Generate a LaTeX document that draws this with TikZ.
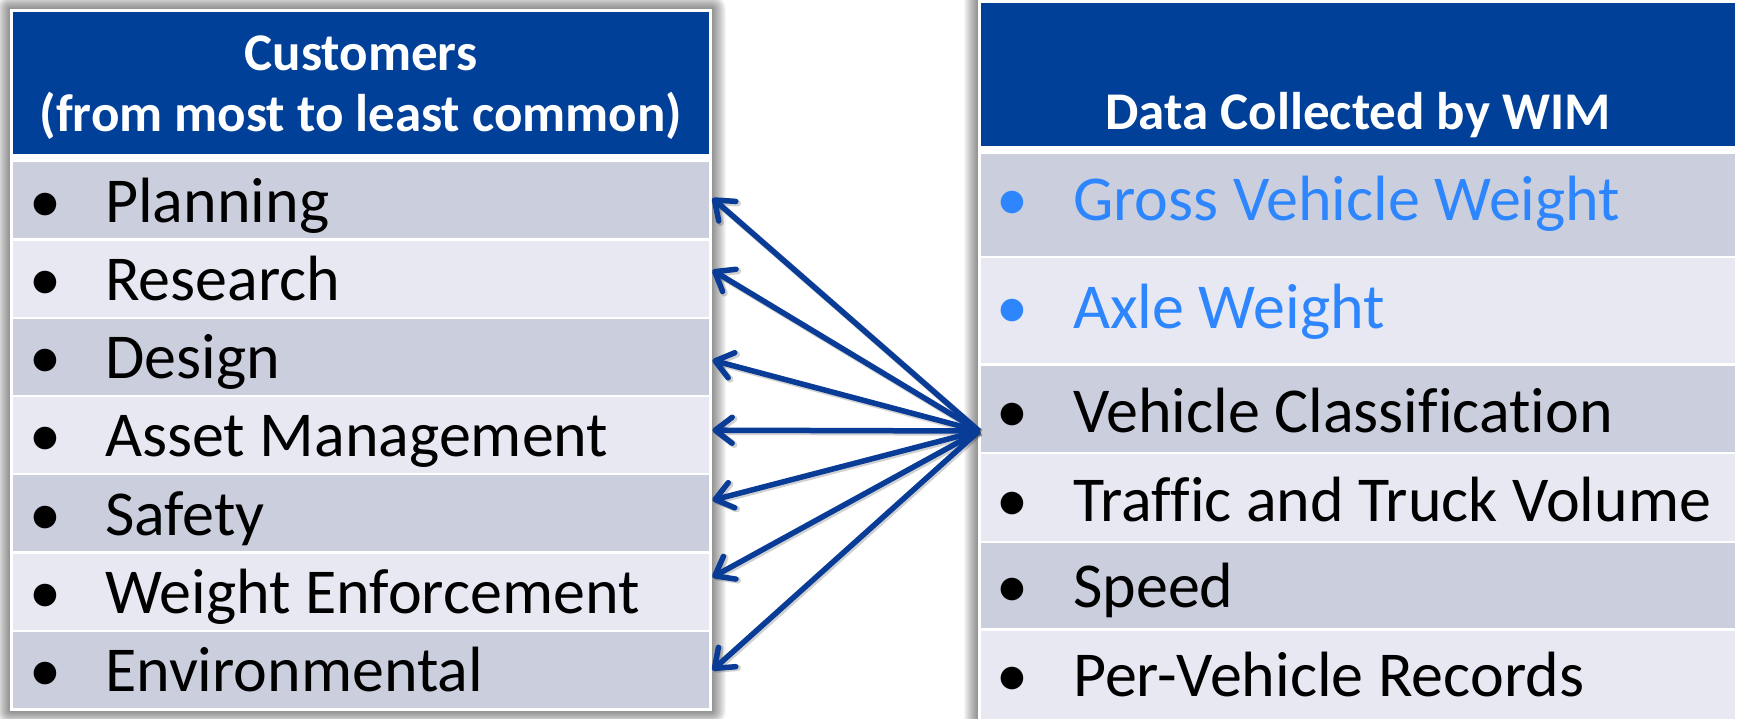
\documentclass[tikz,border=0pt]{standalone}
\usepackage{fontspec}
\setmainfont{Carlito}[Ligatures=NoCommon]
\usetikzlibrary{arrows.meta}

\definecolor{hdrblue}{RGB}{0,64,152}
\definecolor{rowdark}{RGB}{203,207,221}
\definecolor{rowlight}{RGB}{231,232,241}
\definecolor{arrowblue}{RGB}{8,60,150}
\definecolor{itemblue}{RGB}{46,134,255}

\tikzset{
  cellbox/.style={draw=none, inner sep=0pt, anchor=north west},
  hdrtext/.style={text=white, inner sep=0pt, anchor=base,
    font=\fontsize{53}{61}\selectfont\bfseries},
  itemtext/.style={text=black, inner sep=0pt, anchor=base west,
    font=\fontsize{64}{72}\selectfont},
  bullettext/.style={text=black, inner sep=0pt, anchor=base,
    font=\fontsize{64}{72}\selectfont},
  link/.style={draw=arrowblue, line width=5.5pt,
    -{Straight Barb[length=17pt,width=26pt,round]}},
  linkshade/.style={draw=black, opacity=0.18, line width=6.5pt,
    -{Straight Barb[length=17pt,width=26pt,round]}},
}

% soft outer shadow of a panel: stacked translucent frames
\newcommand{\panelshadow}[4]{%
  \foreach \s in {1,...,14}{%
    \fill[black, opacity=0.035, rounded corners=\s pt]
      (#1-\s, #2-\s) rectangle (#3+\s, #4+\s);
  }%
}

\begin{document}
\begin{tikzpicture}[x=1pt, y=-1pt]
\clip (0,0) rectangle (1738,718);
\fill[white] (0,0) rectangle (1738,718);

% ---------- shadows and white frames ----------
\panelshadow{10}{9}{712}{711}
\panelshadow{978}{0}{1738}{740}
\fill[white] (10,9) rectangle (712,711);
\fill[white] (978,0) rectangle (1738,740);

% ---------- customers panel ----------
\node[cellbox, fill=hdrblue, minimum width=696pt, minimum height=142pt] (Lh) at (13,12) {};
\node[hdrtext] (Lh1) at (361,70) {Customers};
\node[hdrtext] (Lh2) at (361,131) {(from most to least common)};

\foreach \i/\name/\col in {%
  1/Planning/rowdark,
  2/Research/rowlight,
  3/Design/rowdark,
  4/Asset Management/rowlight,
  5/Safety/rowdark,
  6/Weight Enforcement/rowlight,
  7/Environmental/rowdark}{%
  \pgfmathsetmacro{\rowtop}{162+78.3*(\i-1)}
  \node[cellbox, fill=\col, minimum width=696pt, minimum height=76pt] (L\i) at (13,\rowtop) {};
  \node[bullettext] (Lb\i) at (45,\rowtop+60) {•};
  \node[itemtext] (Lt\i) at (105,\rowtop+60) {\name};
}

% ---------- data panel ----------
\node[cellbox, fill=hdrblue, minimum width=754pt, minimum height=143pt] (Rh) at (981,3) {};
\node[hdrtext] (Rh1) at (1358,129) {Data Collected by WIM};

\foreach \i/\rt/\rb/\base/\name/\col/\tc in {%
  1/154/256/220/Gross Vehicle Weight/rowdark/itemblue,
  2/258/363/328/Axle Weight/rowlight/itemblue,
  3/366/452/432/Vehicle Classification/rowdark/black,
  4/454/541/521/Traffic and Truck Volume/rowlight/black,
  5/543/628/607/Speed/rowdark/black,
  6/631/740/696/Per-Vehicle Records/rowlight/black}{%
  \pgfmathsetmacro{\cellh}{\rb-\rt}
  \node[cellbox, fill=\col, minimum width=754pt, minimum height=\cellh pt] (R\i) at (981,\rt) {};
  \node[bullettext, text=\tc] (Rb\i) at (1012,\base) {•};
  \node[itemtext, text=\tc] (Rt\i) at (1073,\base) {\name};
}

% ---------- connectors ----------
\coordinate (hub) at (979,431);
\foreach \i/\dy in {1/2, 2/8.3, 3/-3.4, 4/4.9, 5/13.2, 6/14.5, 7/-0.2}{%
  \draw[linkshade] ([xshift=1.5pt,yshift=-1.5pt]hub) -- ([xshift=4.5pt,yshift=\dy pt-1.5pt]L\i.east);
}
\foreach \i/\dy in {1/2, 2/8.3, 3/-3.4, 4/4.9, 5/13.2, 6/14.5, 7/-0.2}{%
  \draw[link] (hub) -- ([xshift=3pt,yshift=\dy pt]L\i.east);
}
\end{tikzpicture}
\end{document}
